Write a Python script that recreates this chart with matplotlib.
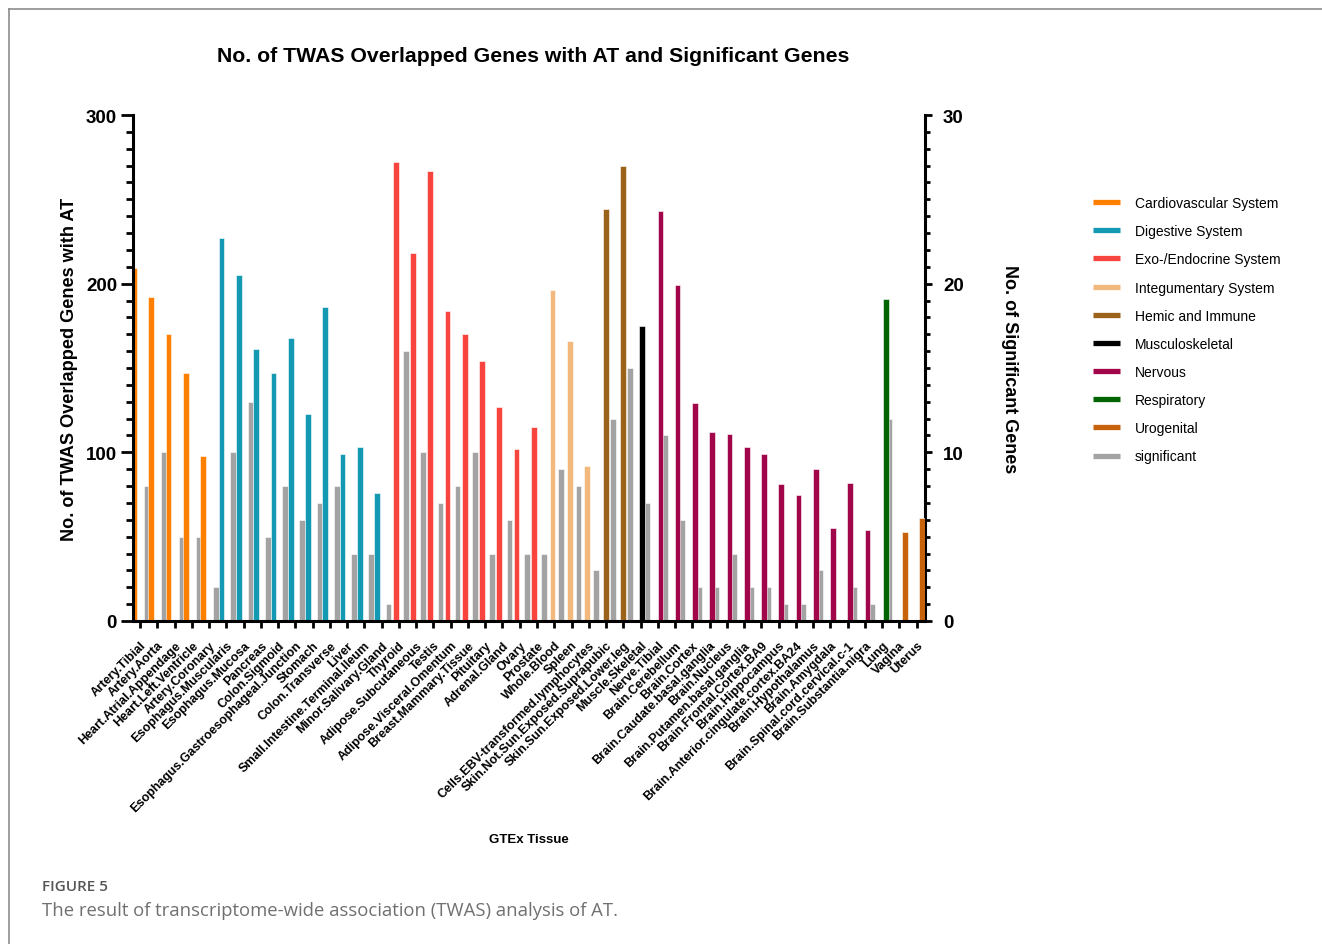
import numpy as np
import matplotlib.pyplot as plt
from matplotlib.lines import Line2D
from matplotlib.ticker import MultipleLocator

plt.rcParams['font.family'] = ['Liberation Sans', 'DejaVu Sans']
plt.rcParams['font.weight'] = 'bold'
plt.rcParams['axes.labelweight'] = 'bold'

# GTEx 组织 (按系统顺序排列)
tissues = [
    'Artery.Tibial', 'Artery.Aorta', 'Heart.Atrial.Appendage', 'Heart.Left.Ventricle',
    'Artery.Coronary', 'Esophagus.Muscularis', 'Esophagus.Mucosa', 'Pancreas',
    'Colon.Sigmoid', 'Esophagus.Gastroesophageal.Junction', 'Stomach', 'Colon.Transverse',
    'Liver', 'Small.Intestine.Terminal.Ileum', 'Minor.Salivary.Gland', 'Thyroid',
    'Adipose.Subcutaneous', 'Testis', 'Adipose.Visceral.Omentum', 'Breast.Mammary.Tissue',
    'Pituitary', 'Adrenal.Gland', 'Ovary', 'Prostate', 'Whole.Blood', 'Spleen',
    'Cells.EBV-transformed.lymphocytes', 'Skin.Not.Sun.Exposed.Suprapubic',
    'Skin.Sun.Exposed.Lower.leg', 'Muscle.Skeletal', 'Nerve.Tibial', 'Brain.Cerebellum',
    'Brain.Cortex', 'Brain.Caudate.basal.ganglia', 'Brain.Nucleus',
    'Brain.Putamen.basal.ganglia', 'Brain.Frontal.Cortex.BA9', 'Brain.Hippocampus',
    'Brain.Anterior.cingulate.cortex.BA24', 'Brain.Hypothalamus', 'Brain.Amygdala',
    'Brain.Spinal.cord.cervical.c-1', 'Brain.Substantia.nigra', 'Lung', 'Vagina', 'Uterus',
]

# 与 AT 重叠的 TWAS 基因数 (左轴)
twas_genes = [209, 192, 170, 147, 98,
              227, 205, 161, 147, 168, 123, 186, 99, 103, 76,
              272, 218, 267, 184, 170, 154, 127, 102, 115,
              196, 166, 92,
              244, 270,
              175,
              243, 199, 129, 112, 111, 103, 99, 81, 75, 90, 55, 82, 54,
              191,
              53, 61]

# 显著基因数 (右轴)
sig_genes = [8, 10, 5, 5, 2,
             10, 13, 5, 8, 6, 7, 8, 4, 4, 1,
             16, 10, 7, 8, 10, 4, 6, 4, 4,
             9, 8, 3,
             12, 15,
             7,
             11, 6, 2, 2, 4, 2, 2, 1, 1, 3, 0, 2, 1,
             12,
             0, 0]

systems = ['Cardiovascular System', 'Digestive System', 'Exo-/Endocrine System',
           'Integumentary System', 'Hemic and Immune', 'Musculoskeletal', 'Nervous',
           'Respiratory', 'Urogenital']
system_sizes = [5, 10, 9, 3, 2, 1, 13, 1, 2]
system_colors = ['#FF8000', '#1399B2', '#F8443F', '#F2B87C', '#9A6319',
                 '#000000', '#A1064B', '#006400', '#C7620A']
sig_color = '#A3A3A3'

tissue_system = np.repeat(np.arange(len(systems)), system_sizes)
twas_arr = np.array(twas_genes)

fig = plt.figure(figsize=(13.22, 9.45), dpi=100)
ax = fig.add_axes([133 / 1322, 1 - 622 / 945, 792 / 1322, 506 / 945])
ax2 = ax.twinx()

x = np.arange(len(tissues))
# 每个组织 10 个槽位: 各系统依次错开, significant 在最后
slot = 0.084
start = -0.52
width = 0.33

for k, name in enumerate(systems):
    idx = tissue_system == k
    ax.bar(x[idx] + start + k * slot, twas_arr[idx], width=width, align='edge',
           color=system_colors[k], edgecolor='white', linewidth=0.4)
ax2.bar(x + start + len(systems) * slot, sig_genes, width=width, align='edge',
        color=sig_color, edgecolor='white', linewidth=0.4)

# 彩色柱子画在灰色柱子上面
ax.set_zorder(ax2.get_zorder() + 1)
ax.patch.set_visible(False)

ax.set_xlim(-0.406, 45.48)
ax.set_ylim(0, 300)
ax2.set_ylim(0, 30)

for side in ['top', 'right']:
    ax.spines[side].set_visible(False)
for side in ['top', 'left', 'bottom']:
    ax2.spines[side].set_visible(False)
ax.spines['left'].set_linewidth(2.2)
ax.spines['bottom'].set_linewidth(2.2)
ax2.spines['right'].set_linewidth(2.2)

ax.yaxis.set_major_locator(MultipleLocator(100))
ax.yaxis.set_minor_locator(MultipleLocator(10))
ax.tick_params(axis='y', which='major', length=8.5, width=2, labelsize=13.5, pad=3)
ax.tick_params(axis='y', which='minor', length=5, width=2)

ax2.yaxis.set_major_locator(MultipleLocator(10))
ax2.yaxis.set_minor_locator(MultipleLocator(1))
ax2.tick_params(axis='y', which='major', length=5, width=2, labelsize=13.5, pad=8)
ax2.tick_params(axis='y', which='minor', length=3.5, width=2)

ax.set_xticks(x)
ax.set_xticklabels(tissues, rotation=45, ha='right', rotation_mode='anchor', fontsize=9)
ax.tick_params(axis='x', length=5, width=2, pad=8)

ax.set_ylabel('No. of TWAS Overlapped Genes with AT', fontsize=13.1)
ax.yaxis.set_label_coords(-0.0694, 0.5)
ax2.set_ylabel('No. of Significant Genes', fontsize=13, rotation=270, va='bottom')
ax2.yaxis.set_label_coords(1.096, 0.5)

fig.text(533 / 1322, 1 - 56 / 945, 'No. of TWAS Overlapped Genes with AT and Significant Genes',
         ha='center', va='center', fontsize=15.3)
fig.text(529 / 1322, 1 - 840 / 945, 'GTEx Tissue', ha='center', va='center', fontsize=9.5)

# 图例
handles = [Line2D([0], [0], color=c, lw=3.8, solid_capstyle='butt')
           for c in system_colors + [sig_color]]
labels = systems + ['significant']
fig.legend(handles, labels, loc='upper left', bbox_to_anchor=(1093 / 1322, 1 - 197 / 945),
           frameon=False, handlelength=1.95, handletextpad=1.05, labelspacing=1.02,
           borderpad=0, borderaxespad=0, prop={'size': 10, 'weight': 'normal'})

# 图注
fig.text(42 / 1322, 1 - 887 / 945, 'FIGURE 5', family=['Open Sans', 'DejaVu Sans'],
         fontsize=11, weight='semibold', color='#555555', va='center')
fig.text(42 / 1322, 1 - 911 / 945,
         'The result of transcriptome-wide association (TWAS) analysis of AT.',
         family=['Open Sans', 'DejaVu Sans'], fontsize=13.3, weight='normal',
         color='#707070', va='center')

# 外框线
fig.add_artist(Line2D([9 / 1322, 1], [1 - 10 / 945, 1 - 10 / 945], color='#8c8c8c',
                      lw=1.2, transform=fig.transFigure))
fig.add_artist(Line2D([9 / 1322, 9 / 1322], [0, 1 - 10 / 945], color='#8c8c8c',
                      lw=1.2, transform=fig.transFigure))

fig.savefig('out.png', dpi=100)
